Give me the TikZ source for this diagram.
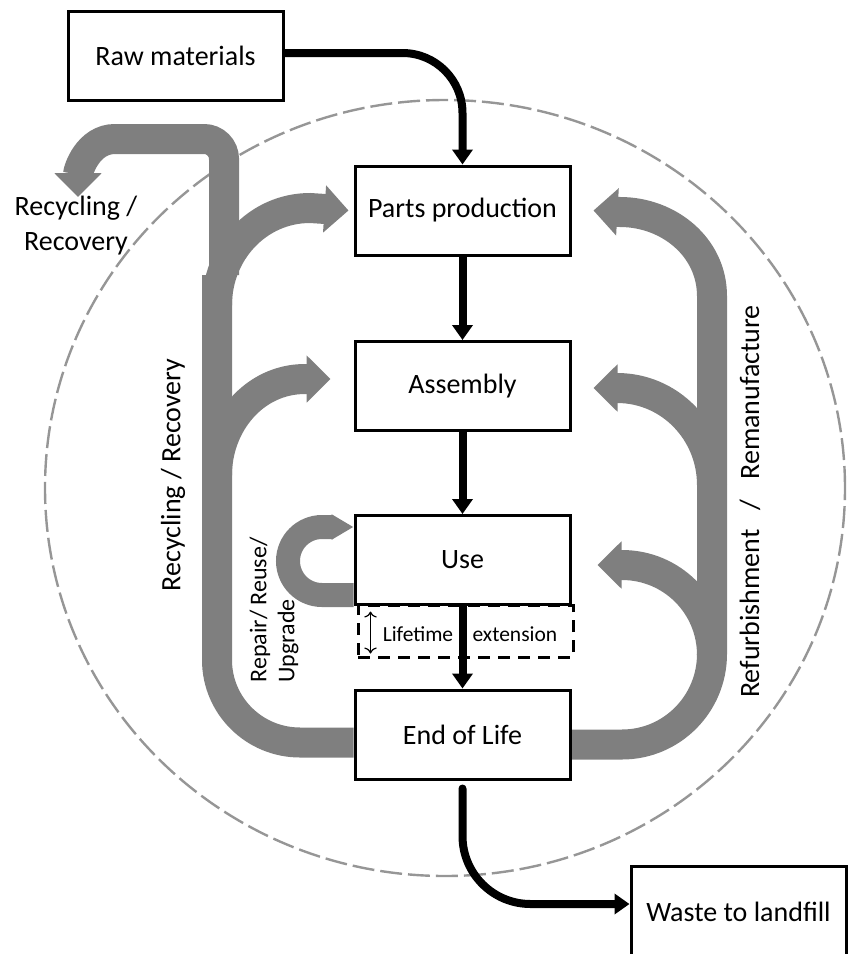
\documentclass[tikz,border=0pt]{standalone}
\usepackage{fontspec}
\setmainfont{Carlito}
\usetikzlibrary{arrows.meta,calc,backgrounds}
\definecolor{flowgray}{RGB}{127,127,127}
\definecolor{ringgray}{RGB}{150,150,150}
\newcommand{\stageFont}{\fontsize{14}{17.5}\selectfont}

\begin{document}
\begin{tikzpicture}[x=0.5pt,y=-0.5pt,
  stage/.style={draw, line width=1.5pt, fill=white, minimum width=107.5pt, minimum height=44.5pt, inner sep=0pt, font=\stageFont},
  band/.style={flowgray, line width=15pt},
  flow/.style={band, -{Triangle[width=23pt,length=12pt]}},
  mainflow/.style={line width=4pt, -{Triangle[width=10pt,length=7.5pt]}},
  label/.style={inner sep=0pt, font=\stageFont, align=center}]
\useasboundingbox (0,0) rectangle (850,954);

\node[stage] (raw) at (175.5,56) {Raw materials};
\node[stage] (parts) at (462.5,210.5) {Parts production};
\node[stage] (assembly) at (462.5,386) {Assembly};
\node[draw, line width=1.5pt, dash pattern=on 6pt off 4pt, minimum width=107.5pt, minimum height=26pt, inner sep=0pt] (life) at (465.5,631) {};
\node[stage] (use) at (462.5,560) {Use};
\node[stage] (eol) at (462.5,734.5) {End of Life};
\node[stage, minimum height=46pt] (waste) at (738.5,912) {Waste to landfill};

\coordinate (lj1) at (217,305);
\coordinate (lj2) at (217,475);
\coordinate (rj1) at (712,485);
\coordinate (rj2) at (712,655);

\begin{scope}[on background layer]
\draw[ringgray, line width=1.2pt, dash pattern=on 11pt off 3pt] (445,488) ellipse [x radius=200pt, y radius=194pt];
\draw[band] ([yshift=-4pt]eol.west) -- (300,742.5) to[out=180,in=-90] (217,660) -- (217,275);
\draw[flow] (224,275) -- (224,159) to[out=90,in=0] (204,139) -- (115,139) to[out=180,in=90] (78,197);
\draw[flow] (lj1) to[out=90,in=180] (310,208) -- ([xshift=-2.5pt]parts.west);
\draw[flow] (lj2) to[out=90,in=180] (305,379) -- ([xshift=-11.5pt,yshift=3.5pt]assembly.west);
\draw[flow] ([yshift=-5pt]eol.east) -- (622,744.5) to[out=0,in=-90] (712,654) -- (712,296) to[out=90,in=0] (620,212) -- ([xshift=11pt]parts.east);
\draw[flow] (rj1) to[out=90,in=0] (617,388) -- ([xshift=11pt,yshift=-1pt]assembly.east);
\draw[flow] (rj2) to[out=90,in=0] (622,565) -- ([xshift=13pt,yshift=-2.5pt]use.east);
\draw[flowgray, line width=12pt, -{Triangle[width=12pt,length=11pt]}] ([yshift=-17.5pt]use.west) -- (322,595) arc[start angle=270, end angle=90, radius=17pt] -- ([yshift=16.5pt]use.west);
\end{scope}

\node[inner sep=0pt, font=\fontsize{10.75}{13}\selectfont] (lifetext) at (470,634) {Lifetime\hspace{0.9em}extension};
\draw[{To[length=3pt]}-{To[length=3pt]}, line width=0.6pt] ($(life.north west)+(14,8)$) -- ($(life.south west)+(14,-5)$);

\draw[mainflow, rounded corners=30pt] ([yshift=1.5pt]raw.east) -| (parts.north);
\draw[mainflow] (parts) -- (assembly);
\draw[mainflow] (assembly) -- (use);
\draw[mainflow] (use) -- (eol);
\draw[mainflow, line cap=round, rounded corners=34pt] ([yshift=-4pt]eol.south) |- ([yshift=4pt]waste.west);

\node[label] (recyctop) at (76,226) {Recycling /\\Recovery};
\node[label, rotate=90] (recycside) at (173,475) {Recycling / Recovery};
\node[label, rotate=90, align=left, font=\fontsize{12}{14}\selectfont] (repair) at (274,610) {Repair/ Reuse/\\Upgrade};
\node[label, rotate=90] (refurb) at (750,501.5) {Refurbishment\hspace{0.7em}/\hspace{0.7em}Remanufacture};
\end{tikzpicture}
\end{document}
